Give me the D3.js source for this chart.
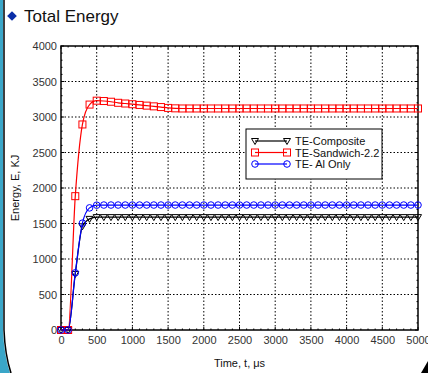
<!DOCTYPE html>
<html>
<head>
<meta charset="utf-8">
<script src="https://cdn.jsdelivr.net/npm/d3@7"></script>
<style>
  body { margin: 0; background: #fff; }
  svg { display: block; font-family: Arial, "Liberation Sans", sans-serif; }
</style>
</head>
<body>
<svg id="chart"></svg>
<script>
// time points, every 100 us
const times = d3.range(0, 5001, 100);

// energy values (KJ)
const composite = [0, 0, 790, 1460, 1565, 1590, 1590, 1590, 1590, 1590, 1590,
  1590, 1590, 1590, 1590, 1590, 1590, 1590, 1590, 1590, 1590,
  1590, 1590, 1590, 1590, 1590, 1590, 1590, 1590, 1590, 1590,
  1590, 1590, 1590, 1590, 1590, 1590, 1590, 1590, 1590, 1590,
  1590, 1590, 1590, 1590, 1590, 1590, 1590, 1590, 1590, 1590];
const sandwich = [0, 0, 1885, 2895, 3175, 3230, 3225, 3215, 3200, 3190, 3180,
  3170, 3160, 3150, 3140, 3128, 3122, 3120, 3120, 3120, 3120,
  3120, 3120, 3120, 3120, 3120, 3120, 3120, 3120, 3120, 3120,
  3120, 3120, 3120, 3120, 3120, 3120, 3120, 3120, 3120, 3120,
  3120, 3120, 3120, 3120, 3120, 3120, 3120, 3120, 3120, 3120];
const alOnly = [0, 0, 805, 1505, 1720, 1758, 1760, 1760, 1760, 1760, 1760,
  1760, 1760, 1760, 1760, 1760, 1760, 1760, 1760, 1760, 1760,
  1760, 1760, 1760, 1760, 1760, 1760, 1760, 1760, 1760, 1760,
  1760, 1760, 1760, 1760, 1760, 1760, 1760, 1760, 1760, 1760,
  1760, 1760, 1760, 1760, 1760, 1760, 1760, 1760, 1760, 1760];

const xTicks = d3.range(0, 5001, 500);
const yTicks = d3.range(0, 4001, 500);

const seriesNames = ["TE-Composite", "TE-Sandwich-2.2", "TE- Al Only"];
const seriesColors = ["#000000", "#ff0000", "#0000ff"];
const seriesMarkers = ["triangle", "square", "circle"];

const W = 428, H = 373;
const svg = d3.select("#chart").attr("width", W).attr("height", H);

// slide frame on the left edge
svg.append("path")
  .attr("d", "M0,0 L3,0 L3,330 Q4,355 10,373 L0,373 Z")
  .attr("fill", "#3aa6c8");
svg.append("path")
  .attr("d", "M4,0 L4,330 Q5,355 11,373")
  .attr("fill", "none").attr("stroke", "#000").attr("stroke-width", 1.5);
svg.append("path")
  .attr("d", "M428,361 L428,373 L421,373 Z")
  .attr("fill", "#000");

// title
svg.append("path")
  .attr("d", d3.symbol(d3.symbolDiamond2, 60)())
  .attr("transform", "translate(12,16)")
  .attr("fill", "#0a2ea8");
svg.append("text")
  .attr("x", 24).attr("y", 22)
  .attr("font-size", 17)
  .attr("fill", "#111")
  .text("Total Energy");

const margin = { left: 61, right: 10, top: 46, bottom: 43 };
const x = d3.scaleLinear().domain([0, 5000]).range([margin.left, W - margin.right]);
const y = d3.scaleLinear().domain([0, 4000]).range([H - margin.bottom, margin.top]);

const plot = svg.append("g");

// grid
plot.append("g").selectAll("line")
  .data(xTicks.slice(1, -1))
  .join("line")
  .attr("x1", d => x(d)).attr("x2", d => x(d))
  .attr("y1", y(0)).attr("y2", y(4000))
  .attr("stroke", "#000").attr("stroke-width", 1)
  .attr("stroke-dasharray", "1.5,2");
plot.append("g").selectAll("line")
  .data(yTicks.slice(1, -1))
  .join("line")
  .attr("y1", d => y(d)).attr("y2", d => y(d))
  .attr("x1", x(0)).attr("x2", x(5000))
  .attr("stroke", "#000").attr("stroke-width", 1)
  .attr("stroke-dasharray", "1.5,2");

// axes
const xAxis = d3.axisBottom(x).tickValues(xTicks).tickSize(0).tickPadding(6).tickFormat(d3.format("d"));
const yAxis = d3.axisLeft(y).tickValues(yTicks).tickSize(0).tickPadding(4).tickFormat(d3.format("d"));

const gx = svg.append("g").attr("transform", `translate(0,${y(0)})`).call(xAxis);
const gy = svg.append("g").attr("transform", `translate(${x(0)},0)`).call(yAxis);
[gx, gy].forEach(g => {
  g.select(".domain").remove();
  g.selectAll("text").attr("font-size", 11).attr("fill", "#333").attr("font-family", "Arial, 'Liberation Sans', sans-serif");
});

// minor ticks inside the frame
const minorX = d3.range(0, 5001, 100);
const minorY = d3.range(0, 4001, 100);
const tk = svg.append("g").attr("stroke", "#000").attr("stroke-width", 1);
minorX.forEach(t => {
  const len = t % 500 === 0 ? 3 : 1.5;
  tk.append("line").attr("x1", x(t)).attr("x2", x(t)).attr("y1", y(0)).attr("y2", y(0) - len);
  tk.append("line").attr("x1", x(t)).attr("x2", x(t)).attr("y1", y(4000)).attr("y2", y(4000) + len);
});
minorY.forEach(v => {
  const len = v % 500 === 0 ? 3 : 1.5;
  tk.append("line").attr("y1", y(v)).attr("y2", y(v)).attr("x1", x(0)).attr("x2", x(0) + len);
  tk.append("line").attr("y1", y(v)).attr("y2", y(v)).attr("x1", x(5000)).attr("x2", x(5000) - len);
});

// frame
svg.append("rect")
  .attr("x", x(0)).attr("y", y(4000))
  .attr("width", x(5000) - x(0)).attr("height", y(0) - y(4000))
  .attr("fill", "none").attr("stroke", "#000").attr("stroke-width", 1.5);

// axis titles
svg.append("text")
  .attr("x", (x(0) + x(5000)) / 2).attr("y", 367)
  .attr("text-anchor", "middle").attr("font-size", 11).attr("fill", "#111")
  .text("Time, t, \u03bcs");
svg.append("text")
  .attr("transform", `translate(19,${(y(0) + y(4000)) / 2}) rotate(-90)`)
  .attr("text-anchor", "middle").attr("font-size", 11).attr("fill", "#111")
  .text("Energy, E, KJ");

// series
const allSeries = [composite, sandwich, alOnly];
const line = d3.line()
  .x((d, i) => x(times[i]))
  .y(d => y(d))
  .curve(d3.curveMonotoneX);

function drawMarker(g, kind, cx, cy, color) {
  if (kind === "square") {
    g.append("rect").attr("x", cx - 3.5).attr("y", cy - 3.5).attr("width", 7).attr("height", 7)
      .attr("fill", "none").attr("stroke", color).attr("stroke-width", 1);
  } else if (kind === "circle") {
    g.append("circle").attr("cx", cx).attr("cy", cy).attr("r", 3.3)
      .attr("fill", "none").attr("stroke", color).attr("stroke-width", 1);
  } else {
    g.append("path")
      .attr("d", `M${cx - 3.5},${cy - 2.5} L${cx + 3.5},${cy - 2.5} L${cx},${cy + 3.5} Z`)
      .attr("fill", "none").attr("stroke", color).attr("stroke-width", 1);
  }
}

allSeries.forEach((vals, si) => {
  const g = svg.append("g");
  g.append("path").datum(vals)
    .attr("d", line)
    .attr("fill", "none").attr("stroke", seriesColors[si]).attr("stroke-width", 1.2);
  vals.forEach((v, i) => drawMarker(g, seriesMarkers[si], x(times[i]), y(v), seriesColors[si]));
});

// legend
const lg = svg.append("g").attr("transform", "translate(246,129)");
lg.append("rect").attr("width", 136).attr("height", 50)
  .attr("fill", "#fff").attr("stroke", "#000").attr("stroke-width", 1);
seriesNames.forEach((name, i) => {
  const ly = 12 + i * 11.5;
  lg.append("line").attr("x1", 9).attr("x2", 41).attr("y1", ly).attr("y2", ly)
    .attr("stroke", seriesColors[i]).attr("stroke-width", 1.2);
  drawMarker(lg, seriesMarkers[i], 9, ly, seriesColors[i]);
  drawMarker(lg, seriesMarkers[i], 41, ly, seriesColors[i]);
  lg.append("text").attr("x", 49).attr("y", ly + 4)
    .attr("font-size", 11).attr("fill", "#111").text(name);
});
</script>
</body>
</html>
